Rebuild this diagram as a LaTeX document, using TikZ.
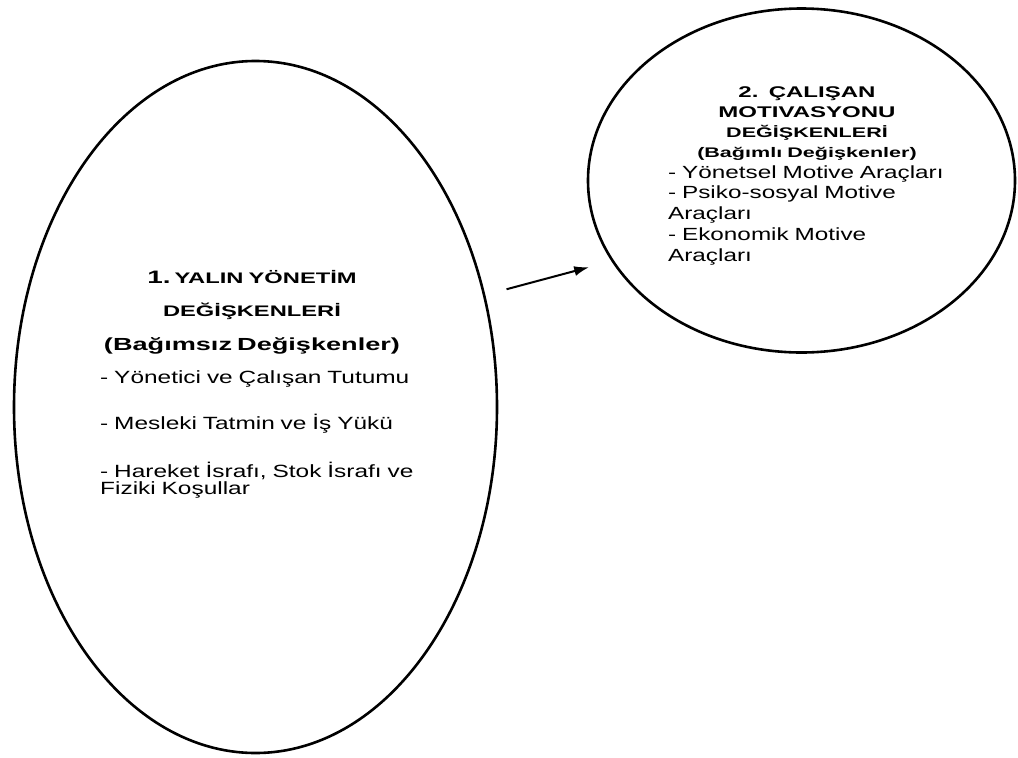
\documentclass[tikz,border=0pt]{standalone}
\usepackage{fontspec}
\setmainfont{Liberation Sans}
\newfontfamily\itemfont[FakeStretch=1.38]{Liberation Sans}
\newfontfamily\headfont[FakeStretch=1.55]{Liberation Sans}
\usetikzlibrary{
    arrows.meta,
    positioning,
    shapes.geometric
}

\begin{document}
\begin{tikzpicture}[
        x=1pt, y=-1pt,
        oval/.style={
            ellipse,
            draw=black,
            line width=2.6pt,
            inner sep=0pt
        },
        headtext/.style={
            text width=330pt,
            align=center,
            inner sep=0pt,
            anchor=base
        },
        listtext/.style={
            text width=340pt,
            align=left,
            inner sep=0pt,
            anchor=base west
        },
        flow/.style={-{Latex[length=15pt,width=10pt]},line width=2pt,draw=black}
    ]
        \useasboundingbox (0,0) rectangle (1018,758);

        \node[oval, minimum width=483pt, minimum height=692pt] (yalin) at (255.5,407) {};
        \node[oval, minimum width=427pt, minimum height=344pt] (calisan) at (801.5,180.5) {};

        % left oval
        \node[headtext, font=\headfont\bfseries\fontsize{15.3}{33.5}\selectfont] (yalinhead) at (252,283)
            {{\fontsize{18}{33.5}\selectfont 1.}\hspace{4pt}YALIN YÖNETİM\\
             DEĞİŞKENLERİ\\
             {\fontsize{17.5}{33.5}\selectfont (Bağımsız Değişkenler)}};
        \node[listtext, font=\itemfont\fontsize{17.7}{17.4}\selectfont] (yalinlist) at (100,383)
            {- Yönetici ve Çalışan Tutumu\\[26.6pt]
             - Mesleki Tatmin ve İş Yükü\\[27.6pt]
             - Hareket İsrafı, Stok İsrafı ve\\
             Fiziki Koşullar};

        % right oval
        \node[headtext, font=\headfont\bfseries\fontsize{15.5}{19.8}\selectfont] (calisanhead) at (807,97.7)
            {2.\ \ ÇALIŞAN\\
             MOTIVASYONU\\
             {\fontsize{13.9}{19.8}\selectfont DEĞİŞKENLERİ}\\
             {\fontsize{13.9}{19.8}\selectfont (Bağımlı Değişkenler)}};
        \node[listtext, font=\itemfont\fontsize{17.6}{20.8}\selectfont] (calisanlist) at (668,178)
            {- Yönetsel Motive Araçları\\
             - Psiko-sosyal Motive\\
             Araçları\\
             - Ekonomik Motive\\
             Araçları};

        \draw[flow, shorten <=22pt, shorten >=23pt] (yalin.26.8) -- (calisan.203.6);
    \end{tikzpicture}
\end{document}
